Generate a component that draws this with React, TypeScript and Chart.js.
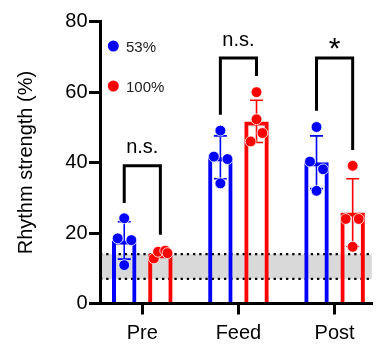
import React, { useEffect, useRef } from 'react';
import { Chart, registerables } from 'chart.js';

Chart.register(...registerables);

// ---- data ----
const categories = ['Pre', 'Feed', 'Post'];
const seriesNames = ['53%', '100%'];
const seriesColors = ['#0000ff', '#ff0000'];
const blueMeans = [17.9, 41.5, 40.1];
const blueSD = [5.3, 6.1, 7.5];
const redMeans = [14.2, 51.7, 25.8];
const redSD = [1.1, 6.0, 9.6];
const blueDots = [
  [24.2, 18.5, 18.0, 10.9],
  [49.1, 41.7, 41.0, 34.1],
  [50.1, 40.3, 38.1, 32.0],
];
const redDots = [
  [12.8, 14.7, 15.0, 14.3],
  [60.0, 52.3, 48.4, 46.0],
  [39.1, 24.0, 24.0, 16.1],
];
const blueJitter = [
  [0, -0.068, 0.074, 0],
  [0, -0.068, 0.074, 0],
  [0, -0.068, 0.068, 0],
];
const redJitter = [
  [-0.068, -0.024, 0.05, 0.074],
  [0, 0, 0.061, -0.061],
  [0, -0.072, 0.063, 0],
];
const yTicks = [0, 20, 40, 60, 80];
const baselineBand = [7, 14];
const sigLabels = ['n.s.', 'n.s.', '*'];
const bracketTop = [39.1, 69.7, 69.7];
const bracketLeftEnd = [28.5, 53.6, 54.7];
const bracketRightEnd = [19.5, 64.6, 43.6];

const X_MIN = -0.44;
const X_MAX = 2.387;
const CAT_PCT = 0.752;
const BAR_PCT = 0.676;
const FONT = 'Arial, "Liberation Sans", Helvetica, sans-serif';

const meansList = [blueMeans, redMeans];
const sdList = [blueSD, redSD];
const dotsList = [blueDots, redDots];
const jitterList = [blueJitter, redJitter];

const bandPlugin = {
  id: 'band',
  beforeDraw(chart: any) {
    const { ctx, chartArea, scales } = chart;
    const y = scales.y;
    const yLo = y.getPixelForValue(baselineBand[0]);
    const yHi = y.getPixelForValue(baselineBand[1]);
    ctx.save();
    ctx.fillStyle = '#d9d9d9';
    ctx.fillRect(chartArea.left, yHi, chartArea.right - chartArea.left, yLo - yHi);
    ctx.strokeStyle = '#000';
    ctx.lineWidth = 2.3;
    ctx.setLineDash([2.3, 3.9]);
    [yLo, yHi].forEach((py) => {
      ctx.beginPath();
      ctx.moveTo(chartArea.left, py);
      ctx.lineTo(chartArea.right, py);
      ctx.stroke();
    });
    ctx.restore();
  },
};

const errorPlugin = {
  id: 'errbars',
  afterDatasetDraw(chart: any, args: any) {
    const idx = args.index;
    if (idx > 1) return;
    const { ctx, scales } = chart;
    const y = scales.y;
    const meta = chart.getDatasetMeta(idx);
    ctx.save();
    ctx.strokeStyle = seriesColors[idx];
    ctx.lineWidth = 1.6;
    meta.data.forEach((bar: any, i: number) => {
      const m = meansList[idx][i];
      const sd = sdList[idx][i];
      const yt = y.getPixelForValue(m + sd);
      const yb = y.getPixelForValue(m - sd);
      ctx.beginPath();
      ctx.moveTo(bar.x, yt);
      ctx.lineTo(bar.x, yb);
      ctx.moveTo(bar.x - 6.5, yt);
      ctx.lineTo(bar.x + 6.5, yt);
      ctx.moveTo(bar.x - 6.5, yb);
      ctx.lineTo(bar.x + 6.5, yb);
      ctx.stroke();
    });
    ctx.restore();
  },
};

const annotPlugin = {
  id: 'annot',
  afterDatasetsDraw(chart: any) {
    const { ctx, scales, chartArea } = chart;
    const y = scales.y;
    const mB = chart.getDatasetMeta(0);
    const mR = chart.getDatasetMeta(1);
    ctx.save();
    ctx.strokeStyle = '#000';
    ctx.fillStyle = '#000';
    ctx.lineWidth = 3;
    ctx.lineJoin = 'miter';
    ctx.lineCap = 'butt';
    categories.forEach((_, i) => {
      const xl = mB.data[i].x;
      const xr = mR.data[i].x;
      const yt = y.getPixelForValue(bracketTop[i]);
      ctx.beginPath();
      ctx.moveTo(xl, y.getPixelForValue(bracketLeftEnd[i]));
      ctx.lineTo(xl, yt);
      ctx.lineTo(xr, yt);
      ctx.lineTo(xr, y.getPixelForValue(bracketRightEnd[i]));
      ctx.stroke();
      ctx.textAlign = 'center';
      ctx.textBaseline = 'alphabetic';
      if (sigLabels[i] === '*') {
        ctx.font = `30px ${FONT}`;
        ctx.fillText(sigLabels[i], (xl + xr) / 2, yt + 0.5);
      } else {
        ctx.font = `20px ${FONT}`;
        ctx.fillText(sigLabels[i], (xl + xr) / 2, yt - 12.4);
      }
    });
    // legend
    seriesNames.forEach((name, k) => {
      const cx = chartArea.left + 13.3;
      const cy = chartArea.top + 24.3 + k * 40;
      ctx.beginPath();
      ctx.fillStyle = seriesColors[k];
      ctx.arc(cx, cy, 5.5, 0, Math.PI * 2);
      ctx.fill();
      ctx.fillStyle = '#222';
      ctx.font = `15px ${FONT}`;
      ctx.textAlign = 'left';
      ctx.textBaseline = 'alphabetic';
      ctx.fillText(name, cx + 12.7, cy + 5.6);
    });
    ctx.restore();
  },
};

export default function App() {
  const ref = useRef<HTMLCanvasElement | null>(null);
  useEffect(() => {
    if (!ref.current) return;
    const font = { family: FONT, size: 20 };
    const barSets = meansList.map((means, k) => ({
      type: 'bar',
      label: seriesNames[k],
      data: means.map((v, i) => ({ x: i, y: v })),
      backgroundColor: 'rgba(0,0,0,0)',
      borderColor: seriesColors[k],
      borderWidth: 4,
      categoryPercentage: CAT_PCT,
      barPercentage: BAR_PCT,
      order: 3,
    }));
    const dotSets = dotsList.map((dots, k) => ({
      type: 'scatter',
      label: seriesNames[k] + ' points',
      data: dots.flatMap((arr, i) =>
        arr.map((v, j) => ({
          x: i + (k === 0 ? -1 : 1) * (CAT_PCT / 4) + jitterList[k][i][j],
          y: v,
        }))
      ),
      backgroundColor: seriesColors[k],
      borderColor: '#ffffff',
      borderWidth: 0.8,
      pointRadius: 5.4,
      order: 1,
    }));
    const chart = new Chart(ref.current, {
      type: 'bar',
      data: { datasets: [...barSets, ...dotSets] as any },
      options: {
        animation: false,
        responsive: false,
        devicePixelRatio: 1,
        layout: { padding: { top: 21.7, right: 0, left: 0, bottom: 0 } },
        plugins: { legend: { display: false }, tooltip: { enabled: false } },
        scales: {
          x: {
            type: 'linear',
            offset: false,
            min: X_MIN,
            max: X_MAX,
            afterBuildTicks: (s: any) => {
              s.ticks = categories.map((_, i) => ({ value: i }));
            },
            afterFit: (s: any) => {
              s.height = 43.5;
            },
            ticks: {
              callback: (v: any) => categories[v] ?? '',
              font,
              color: '#000',
              padding: 7,
              autoSkip: false,
              maxRotation: 0,
            },
            grid: {
              offset: false,
              drawOnChartArea: false,
              drawTicks: true,
              tickLength: 11,
              lineWidth: 3,
              color: '#000',
            },
            border: { display: true, color: '#000', width: 3 },
          },
          y: {
            min: 0,
            max: 80,
            afterBuildTicks: (s: any) => {
              s.ticks = yTicks.map((v) => ({ value: v }));
            },
            afterFit: (s: any) => {
              s.width = 100;
            },
            ticks: { font, color: '#000', padding: 1.5 },
            grid: {
              drawOnChartArea: false,
              drawTicks: true,
              tickLength: 11,
              lineWidth: 3,
              color: '#000',
            },
            border: { display: true, color: '#000', width: 3 },
            title: {
              display: true,
              text: 'Rhythm strength (%)',
              font,
              color: '#000',
              padding: { top: 14, bottom: 0 },
            },
          },
        },
      } as any,
      plugins: [bandPlugin, errorPlugin, annotPlugin],
    });
    return () => chart.destroy();
  }, []);
  return (
    <div style={{ position: 'fixed', left: 0, top: 0, width: 378, height: 347, background: '#fff' }}>
      <canvas ref={ref} width={378} height={347} style={{ display: 'block' }} />
    </div>
  );
}
